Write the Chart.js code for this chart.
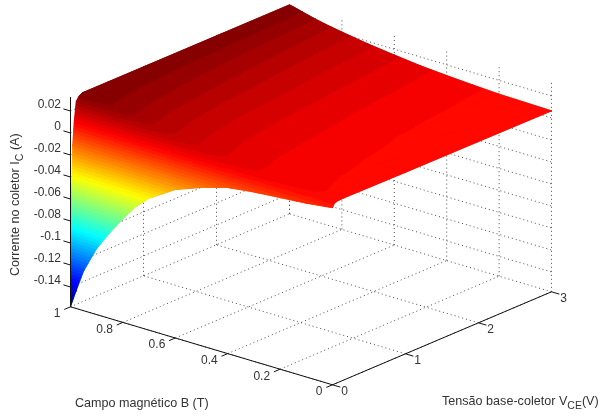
<!DOCTYPE html>
<html>
<head>
<meta charset="utf-8">
<style>
  html, body { margin: 0; padding: 0; background: #fff; }
  canvas { display: block; }
</style>
<script src="https://cdn.jsdelivr.net/npm/chart.js@4/dist/chart.umd.js"></script>
</head>
<body>
<canvas id="surfaceChart" width="599" height="417"></canvas>
<script>
// Magnetic field (T), voltage (V), collector current (A)
const bValues = [0, 0.1, 0.2, 0.3, 0.4, 0.5, 0.6, 0.7, 0.75, 0.8, 0.85, 0.9, 0.95, 0.98, 1];
const vValues = [0, 0.02, 0.03, 0.05, 0.08, 0.12, 0.16, 0.5, 1, 2, 3];

const icV000 = [0.003, 0, -0.002, -0.004, -0.007, -0.014, -0.023, -0.038, -0.049, -0.064, -0.08, -0.098, -0.122, -0.143, -0.158];
const icV002 = [0.0056, 0.0049, 0.0047, 0.0047, 0.0046, 0.0031, 0.0011, -0.0032, -0.0067, -0.0118, -0.0174, -0.024, -0.0333, -0.0416, -0.0478];
const icV003 = [0.0064, 0.0065, 0.0067, 0.0074, 0.0082, 0.0084, 0.0085, 0.0076, 0.0065, 0.0044, 0.0021, -0.0011, -0.0057, -0.0102, -0.0136];
const icV005 = [0.0069, 0.0074, 0.008, 0.0091, 0.0104, 0.0117, 0.0131, 0.0142, 0.0145, 0.0143, 0.014, 0.0129, 0.0111, 0.0091, 0.0073];
const icV008 = [0.0073, 0.0082, 0.009, 0.0104, 0.0122, 0.0143, 0.0168, 0.0196, 0.0211, 0.0224, 0.0237, 0.0244, 0.0255, 0.026, 0.0265];
const icV012 = [0.0075, 0.0084, 0.0094, 0.0109, 0.0128, 0.0152, 0.0181, 0.0214, 0.0233, 0.0251, 0.0269, 0.0282, 0.0295, 0.03, 0.0305];
const icV016 = [0.0075, 0.0085, 0.0095, 0.011, 0.013, 0.0155, 0.0185, 0.022, 0.024, 0.026, 0.028, 0.0295, 0.031, 0.0318, 0.032];
const icV050 = [0.0073, 0.0081, 0.009, 0.0104, 0.0123, 0.0146, 0.0176, 0.0209, 0.0229, 0.0249, 0.0269, 0.0286, 0.0305, 0.0316, 0.032];
const icV100 = [0.007, 0.0078, 0.0086, 0.01, 0.0118, 0.0139, 0.0168, 0.0201, 0.022, 0.024, 0.026, 0.0279, 0.0301, 0.0314, 0.032];
const icV200 = [0.0068, 0.0074, 0.008, 0.0093, 0.0109, 0.0129, 0.0157, 0.0188, 0.0206, 0.0226, 0.0246, 0.0269, 0.0295, 0.0312, 0.032];
const icV300 = [0.0065, 0.007, 0.0075, 0.0087, 0.0102, 0.012, 0.0147, 0.0177, 0.0195, 0.0215, 0.0235, 0.026, 0.029, 0.031, 0.032];
const icRows = [icV000, icV002, icV003, icV005, icV008, icV012, icV016, icV050, icV100, icV200, icV300];

const bTicks = [1, 0.8, 0.6, 0.4, 0.2, 0];
const bTickLabels = ["1", "0.8", "0.6", "0.4", "0.2", "0"];
const vTicks = [0, 1, 2, 3];
const vTickLabels = ["0", "1", "2", "3"];
const zTicks = [0.02, 0, -0.02, -0.04, -0.06, -0.08, -0.1, -0.12, -0.14];
const zTickLabels = ["0.02", "0", "-0.02", "-0.04", "-0.06", "-0.08", "-0.1", "-0.12", "-0.14"];

const zFloor = -0.158;
const zTop = 0.0327;
const colorMin = -0.158;
const colorMax = 0.032;
const colorLevels = 64;

// Orthographic view: the y scale is in amps, so the tilt of the floor is converted to amps too
const pxPerAmp = 1100;
function project(b, v, z) {
    return {
        x: 70.5 + 262 * (1 - b) + 73 * v,
        y: z - (78 * (1 - b) - 31 * v) / pxPerAmp
    };
}

function jet(k) {
    const t = (k + 0.5) / colorLevels;
    const ch = c => Math.round(255 * Math.max(0, Math.min(1, 1.5 - Math.abs(4 * t - c))));
    return `rgb(${ch(3)},${ch(2)},${ch(1)})`;
}

function clipAbove(poly, level, keepAbove) {
    const out = [];
    for (let i = 0; i < poly.length; i++) {
        const a = poly[i], c = poly[(i + 1) % poly.length];
        const aIn = keepAbove ? a.z >= level : a.z <= level;
        const cIn = keepAbove ? c.z >= level : c.z <= level;
        if (aIn) out.push(a);
        if (aIn !== cIn) {
            const t = (level - a.z) / (c.z - a.z);
            out.push({ x: a.x + (c.x - a.x) * t, y: a.y + (c.y - a.y) * t, z: level });
        }
    }
    return out;
}

// Parsed points joined into one closed, filled patch. fill:"shape" clips to the
// x range between the first and last point, so it can't be used for arbitrary polygons.
class PatchController extends Chart.ScatterController {
    draw() {
        const ctx = this.chart.ctx;
        const { xScale, yScale, _parsed } = this.getMeta();
        const color = this.getDataset().backgroundColor;
        ctx.save();
        ctx.setLineDash([]);
        ctx.beginPath();
        _parsed.forEach(p => ctx.lineTo(xScale.getPixelForValue(p.x), yScale.getPixelForValue(p.y)));
        ctx.closePath();
        ctx.fillStyle = color;
        ctx.strokeStyle = color;
        ctx.lineWidth = 0.7;
        ctx.fill();
        ctx.stroke();
        ctx.restore();
    }
}
PatchController.id = "patch";
PatchController.defaults = Chart.ScatterController.defaults;
Chart.register(PatchController);

function line(data, color, width, dash) {
    return {
        data: data,
        showLine: true,
        fill: false,
        clip: false,
        pointRadius: 0,
        borderColor: color,
        borderWidth: width,
        borderDash: dash || []
    };
}

function patch(poly, color) {
    return {
        type: "patch",
        data: poly.map(p => ({ x: p.x, y: p.y })),
        backgroundColor: color,
        pointRadius: 0,
        clip: false
    };
}

function gridDatasets() {
    const sets = [];
    const dotted = (a, c) => sets.push(line([a, c], "#4a4a4a", 1, [1, 3]));
    bTicks.forEach(b => {
        dotted(project(b, 0, zFloor), project(b, 3, zFloor));
        dotted(project(b, 3, zFloor), project(b, 3, zTop));
    });
    vTicks.forEach(v => {
        dotted(project(0, v, zFloor), project(1, v, zFloor));
        dotted(project(1, v, zFloor), project(1, v, zTop));
    });
    zTicks.forEach(z => {
        dotted(project(1, 0, z), project(1, 3, z));
        dotted(project(1, 3, z), project(0, 3, z));
    });
    return sets;
}

function levelOf(z) {
    const size = (colorMax - colorMin) / colorLevels;
    return Math.max(0, Math.min(colorLevels - 1, Math.floor((z - colorMin) / size)));
}

function bandDatasets(tri) {
    const sets = [];
    const size = (colorMax - colorMin) / colorLevels;
    const zs = tri.map(p => p.z);
    const first = levelOf(Math.min(...zs));
    const last = levelOf(Math.max(...zs));
    for (let k = first; k <= last; k++) {
        let poly = tri;
        if (k > 0) poly = clipAbove(poly, colorMin + k * size, true);
        if (k < colorLevels - 1) poly = clipAbove(poly, colorMin + (k + 1) * size, false);
        if (poly.length < 3) continue;
        sets.push(patch(poly, jet(k)));
    }
    return sets;
}

function surfaceDatasets() {
    const under = [], bands = [];
    const vertex = (i, j) => {
        const p = project(bValues[i], vValues[j], icRows[j][i]);
        return { x: p.x, y: p.y, z: icRows[j][i] };
    };
    // Far corner first, near corner last
    for (let j = vValues.length - 2; j >= 0; j--) {
        for (let i = bValues.length - 2; i >= 0; i--) {
            const p00 = vertex(i, j), p10 = vertex(i + 1, j), p11 = vertex(i + 1, j + 1), p01 = vertex(i, j + 1);
            // whole cell in its mean colour underneath, closes any sliver the bands leave
            under.push(patch([p00, p10, p11, p01], jet(levelOf((p00.z + p10.z + p11.z + p01.z) / 4))));
            bands.push(...bandDatasets([p10, p11, p01]));
            bands.push(...bandDatasets([p00, p10, p01]));
        }
    }
    return under.concat(bands);
}

function axisDatasets() {
    const sets = [];
    const solid = (a, c) => sets.push(line([a, c], "#111", 1));
    solid(project(1, 0, zFloor), project(1, 0, zTop));
    solid(project(1, 0, zFloor), project(0, 0, zFloor));
    solid(project(0, 0, zFloor), project(0, 3, zFloor));
    bTicks.forEach(b => solid(project(b, 0, zFloor), project(b, -0.085, zFloor)));
    vTicks.forEach(v => solid(project(0, v, zFloor), project(-0.03, v, zFloor)));
    zTicks.forEach(z => solid(project(1, 0, z), project(1.027, 0, z)));
    return sets;
}

const TEXT_COLOR = "#333";
const FAMILY = "'Liberation Sans', Arial, sans-serif";
const FONT = "12px " + FAMILY;
const TITLE_FONT = "12.6px " + FAMILY;
const SUB_FONT = "10.5px " + FAMILY;

// Draws runs of text one after the other, subscripts dropped by a few pixels
function drawRuns(ctx, runs, x, y) {
    runs.forEach(r => {
        ctx.font = r.sub ? SUB_FONT : TITLE_FONT;
        ctx.fillText(r.text, x, y + (r.sub ? 4 : 0));
        x += ctx.measureText(r.text).width;
    });
}

const axisText = {
    id: "axisText",
    afterDraw(chart) {
        const ctx = chart.ctx;
        const xs = chart.scales.x, ys = chart.scales.y;
        ctx.save();
        ctx.fillStyle = TEXT_COLOR;
        ctx.font = FONT;
        ctx.textBaseline = "middle";
        ctx.textAlign = "right";
        bTicks.forEach((b, i) => {
            const p = project(b, 0, zFloor);
            ctx.fillText(bTickLabels[i], xs.getPixelForValue(p.x) - 10, ys.getPixelForValue(p.y) + 7);
        });
        ctx.textAlign = "center";
        vTicks.forEach((v, i) => {
            const p = project(0, v, zFloor);
            ctx.fillText(vTickLabels[i], xs.getPixelForValue(p.x) + 12, ys.getPixelForValue(p.y) + 7);
        });
        ctx.textAlign = "left";
        ctx.textBaseline = "alphabetic";
        drawRuns(ctx, [{ text: "Campo magnético B (T)" }], 75, 407);
        drawRuns(ctx, [{ text: "Tensão base-coletor V" }, { text: "CE", sub: true }, { text: "(V)" }], 442, 405);
        ctx.translate(19, 276);
        ctx.rotate(-Math.PI / 2);
        drawRuns(ctx, [{ text: "Corrente no coletor I" }, { text: "C", sub: true }, { text: " (A)" }], 0, 0);
        ctx.restore();
    }
};

const datasets = [...gridDatasets(), ...surfaceDatasets(), ...axisDatasets()].reverse();

new Chart(document.getElementById("surfaceChart").getContext("2d"), {
    type: "scatter",
    data: { datasets: datasets },
    plugins: [axisText],
    options: {
        responsive: false,
        animation: false,
        events: [],
        layout: { padding: 0, autoPadding: false },
        plugins: { legend: { display: false }, tooltip: { enabled: false } },
        scales: {
            x: { type: "linear", display: false, min: 71, max: 599 },
            y: {
                type: "linear",
                min: -(417 - 133) / pxPerAmp,
                max: 133 / pxPerAmp,
                afterFit: s => { s.width = 71; s.paddingTop = 0; s.paddingBottom = 0; },
                afterBuildTicks: s => { s.ticks = zTicks.map(value => ({ value })); },
                grid: { display: false, drawTicks: false },
                border: { display: false },
                ticks: {
                    autoSkip: false,
                    padding: 10,
                    labelOffset: -6,
                    color: TEXT_COLOR,
                    font: { family: FAMILY, size: 12 },
                    callback: value => zTickLabels[zTicks.indexOf(value)]
                }
            }
        }
    }
});
</script>
</body>
</html>
